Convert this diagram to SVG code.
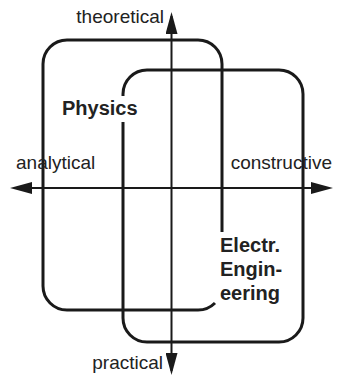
<svg xmlns="http://www.w3.org/2000/svg" width="339" height="379" viewBox="0 0 339 379">
<style>
.box{fill:none;stroke:#1a1a1a;stroke-width:3;stroke-linecap:butt}
.axis{fill:none;stroke:#1a1a1a;stroke-width:2}
.lbl{font-family:"Liberation Sans",Arial,sans-serif;font-size:19px;fill:#222}
.name{font-family:"Liberation Sans",Arial,sans-serif;font-size:20px;font-weight:bold;fill:#222}
</style>
<defs>
<marker id="arr" markerUnits="userSpaceOnUse" markerWidth="22" markerHeight="12" refX="18" refY="6" orient="auto-start-reverse">
<path d="M0,0 L22,6 L0,12 z" fill="#1a1a1a"/>
</marker>
</defs>
<rect width="339" height="379" fill="#fff"/>
<g id="physics">
<path class="box" d="M215,303 A24,24 0 0 1 198,310 H67 A24,24 0 0 1 43,286 V64 A24,24 0 0 1 67,40 H198 A24,24 0 0 1 222,64 V232"/>
<text class="name" x="62" y="115">Physics</text>
</g>
<g id="electrical-engineering">
<path class="box" d="M123,96 V94 A24,24 0 0 1 147,70 H279 A24,24 0 0 1 303,94 V318 A24,24 0 0 1 279,342 H147 A24,24 0 0 1 123,318 V122"/>
<text class="name" x="220" y="252">Electr.</text>
<text class="name" x="220" y="276">Engin-</text>
<text class="name" x="220" y="300">eering</text>
</g>
<g id="connectors">
<line class="axis" x1="171.5" y1="371" x2="171.5" y2="16" marker-start="url(#arr)" marker-end="url(#arr)"/>
<line class="axis" x1="14" y1="188" x2="329" y2="188" marker-start="url(#arr)" marker-end="url(#arr)"/>
</g>
<g id="axis-labels">
<text class="lbl" x="164" y="23" text-anchor="end">theoretical</text>
<text class="lbl" x="16" y="169">analytical</text>
<text class="lbl" x="332" y="169" text-anchor="end">constructive</text>
<text class="lbl" x="163" y="369" text-anchor="end">practical</text>
</g>
</svg>
